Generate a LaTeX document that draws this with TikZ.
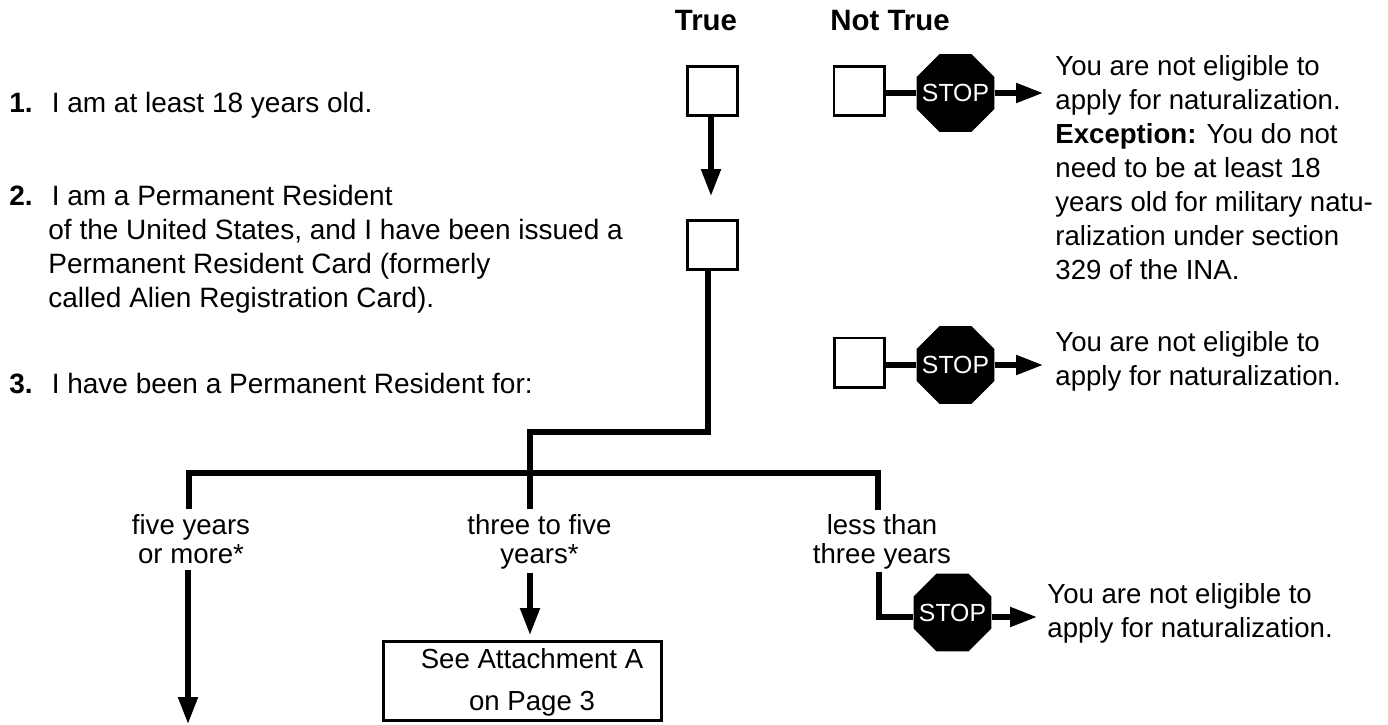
\documentclass[tikz,border=0pt]{standalone}
\usepackage{fontspec}
\setmainfont{Liberation Sans}
\usetikzlibrary{arrows.meta}
\usetikzlibrary{shapes.geometric}

\tikzset{
    wire/.style={line width=2.6pt},
    flowarrow/.style={wire,-{Triangle[length=13.5pt,width=9.5pt]}},
    checkbox/.style={draw,line width=1.3pt,minimum width=25.2pt,minimum height=24.7pt,inner sep=0pt},
    stopsign/.style={regular polygon,regular polygon sides=8,fill=black,inner sep=0pt,minimum size=42pt,
        label={[text=white,inner sep=0pt,font=\fontsize{12.4}{12.4}\selectfont]center:STOP}},
    lefttext/.style={align=left,anchor=base west,inner sep=0pt,font=\fontsize{14}{17}\selectfont},
    righttext/.style={align=left,anchor=base west,inner sep=0pt,font=\fontsize{13.8}{17}\selectfont},
    choicetext/.style={align=center,anchor=base,inner sep=0pt,font=\fontsize{13.8}{14.4}\selectfont},
    headtext/.style={anchor=base,inner sep=0pt,font=\fontsize{14.7}{17}\selectfont\bfseries}
}

\begin{document}
\begin{tikzpicture}[x=0.5pt,y=-0.5pt]
        \useasboundingbox (0,0) rectangle (1388,724);

        % Headings
        \node [headtext] (headtrue) at (706,30) {True};
        \node [headtext] (headnot) at (890,30) {Not True};

        % Statements
        \node [lefttext] (item1) at (9,112) {\textbf{1.}\hspace{9.5pt}I am at least 18 years old.};
        \node [lefttext] (item2) at (9,307) {\textbf{2.}\hspace{9.5pt}I am a Permanent Resident\\
            \hspace{19.5pt}of the United States, and I have been issued a\\
            \hspace{19.5pt}Permanent Resident Card (formerly\\
            \hspace{19.5pt}called Alien Registration Card).};
        \node [lefttext] (item3) at (9,393) {\textbf{3.}\hspace{9.5pt}I have been a Permanent Resident for:};

        % Answer boxes
        \node [checkbox] (true1) at (712.5,91) {};
        \node [checkbox] (not1) at (859,91) {};
        \node [checkbox] (true2) at (712.5,245) {};
        \node [checkbox] (not2) at (859.5,362.5) {};

        % Stop signs
        \node [stopsign] (stop1) at (955.5,93) {};
        \node [stopsign] (stop2) at (955.5,365) {};
        \node [stopsign] (stop3) at (952.5,612.5) {};

        % Notices
        \node [righttext] (notice1) at (1055,279) {You are not eligible to\\
            apply for naturalization.\\
            \textbf{Exception:} You do not\\
            need to be at least 18\\
            years old for military natu-\\
            ralization under section\\
            329 of the INA.};
        \node [righttext] (notice2) at (1055,385) {You are not eligible to\\
            apply for naturalization.};
        \node [righttext] (notice3) at (1047,637) {You are not eligible to\\
            apply for naturalization.};
        \coordinate (end1) at (1043,93);
        \coordinate (end2) at (1043,365);
        \coordinate (end3) at (1037,617);

        % Connectors at the top
        \draw [flowarrow] (711,117) -- (711,196);
        \draw [wire] (not1.east |- end1) -- (stop1.west |- end1);
        \draw [flowarrow] (stop1.east |- end1) -- (end1);
        \draw [wire] (not2.east |- end2) -- (stop2.west |- end2);
        \draw [flowarrow] (stop2.east |- end2) -- (end2);

        % Branches
        \coordinate (bend1) at (708,432);
        \coordinate (bend2) at (530,432);
        \coordinate (joint) at (530,473);
        \coordinate (leftdrop) at (189,509);
        \coordinate (middrop) at (530,509);
        \coordinate (rightdrop) at (878,510);
        \draw [wire] (true2.south -| bend1) -- (bend1) -- (bend2) -- (joint);
        \draw [wire] (leftdrop) -- (leftdrop |- joint) -- (rightdrop |- joint) -- (rightdrop);
        \draw [wire] (joint) -- (middrop);

        % Choices
        \node [choicetext] (five) at (191,563) {five years\\or more*};
        \node [choicetext] (three) at (539.5,563) {three to five\\years*};
        \node [choicetext] (less) at (882,563) {less than\\three years};
        \node [draw,line width=1.5pt,minimum width=139pt,minimum height=39.5pt,inner sep=0pt] (attach) at (522.5,681) {};
        \node [choicetext,font=\fontsize{13.8}{21}\selectfont] (attachtext) at (532,710) {See Attachment A\\on Page 3};

        \coordinate (fivestart) at (188,570);
        \coordinate (fiveend) at (188,724);
        \coordinate (threestart) at (530,573);
        \coordinate (lessstart) at (879,572);
        \draw [flowarrow] (fivestart) -- (fiveend);
        \draw [flowarrow,shorten >=2.5pt] (threestart) -- (threestart |- attach.north);
        \draw [wire] (lessstart) -- (lessstart |- end3) -- (stop3.west |- end3);
        \draw [flowarrow] (stop3.east |- end3) -- (end3);
\end{tikzpicture}
\end{document}
